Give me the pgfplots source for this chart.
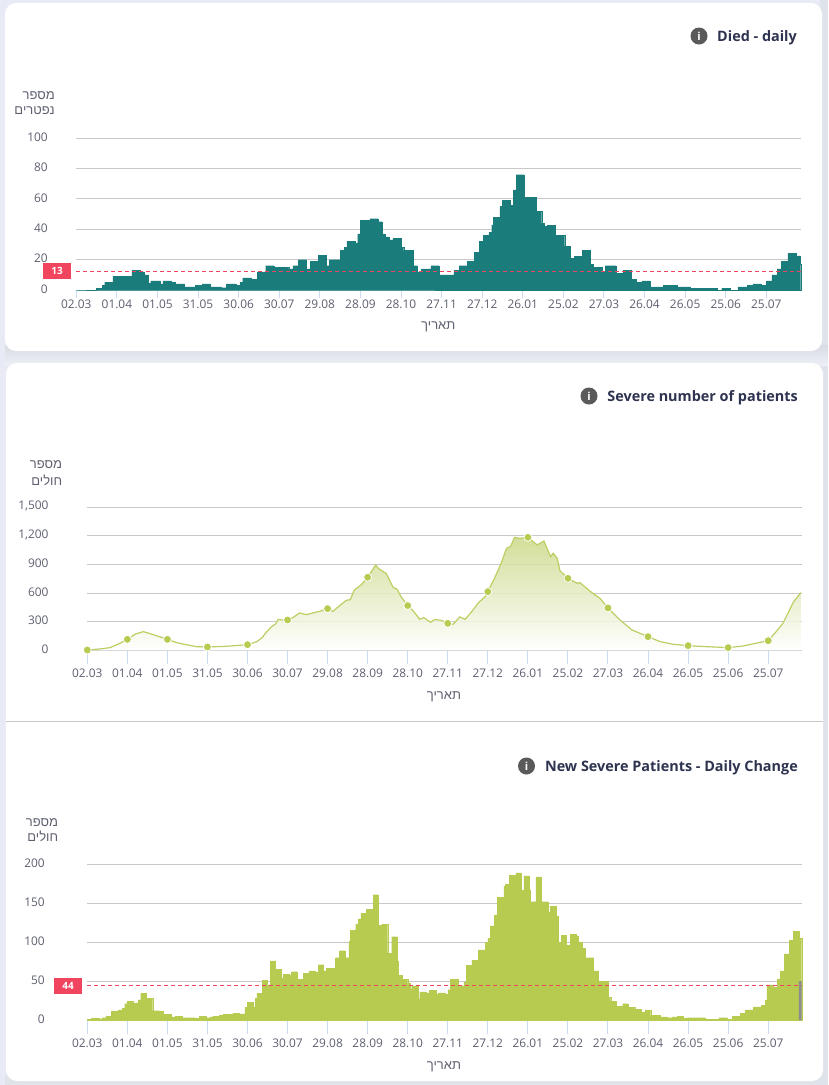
\documentclass[border=0pt]{standalone}
\usepackage{pgfplots}
\pgfplotsset{compat=1.18}
\usepackage{fontspec}
\setmainfont{Open Sans}
\newfontfamily\hebfont[Script=Hebrew]{Liberation Sans}
\TeXXeTstate=1
\definecolor{pagebg}{HTML}{E8EBF5}
\definecolor{rightbg}{HTML}{DFE3EA}
\definecolor{shadowtop}{HTML}{D9DBE3}
\definecolor{shadowbot}{HTML}{EDEFF6}
\definecolor{tickcol}{HTML}{5E6070}
\definecolor{gridcol}{HTML}{C8C8C8}
\definecolor{xtickcol}{HTML}{CCDCF0}
\definecolor{teal}{HTML}{1B7C7C}
\definecolor{lime}{HTML}{B7CB50}
\definecolor{limeline}{HTML}{BDCF62}
\definecolor{limetop}{HTML}{CBD988}
\definecolor{titlecol}{HTML}{2E3350}
\definecolor{redlab}{HTML}{F1445F}
\definecolor{iconcol}{HTML}{5A5A5A}
\pgfplotstableread{
x y
0 0
15 1
19 3
21 5
27 9
35 9
41 13
47 12
50 10
53 4.5
55 6
62 4
64 6
70 5
73 4
80 2
88 3
93 4
99 2
101 2
107 1.5
111 4
118 3
121 5
123 8
129 7
134 12
140 16
146 15
157 14
160 16
164 20
170 14
173 19
179 23
185 16
187 20
195 26
198 28
200 32
206 31
208 37
210 46
217 47
223 45
226 37
228 35
231 33
234 34
240 28
242 26
249 16
252 12
255 14
262 16
268 10
279 13
283 16
289 19
294 25
298 32
301 36
305 38
307 43
308 48
313 55
315 59
321 56
323 66
325 76
331 61
340 52
344 44
346 42
348 42.5
354 36
361 29
365 21
368 22
374 26
380 17
382 15
389 12
391 16
399 11
404 13
410 7
414 5
418 6
424 2
434 3
444 2
454 1
474 0
477 1
483 0
489 2
496 3
500 4
506 3
510 6
514 10
518 14
521 19
526 24
532 22.5
535 17
535.4 17
}\diedtable
\pgfplotstableread{
x y
0 3
9.5 14
17 28
24.5 73
30 115
36 171
42 196
47 175
54 143
60 115
67 80
74 59
82 38
90 35
104 42
120 59
127 91
131 133
134 189
138 248
141 276
143 325
146 318
150 318
154 343
159 392
164 374
169 392
174 409
180 437
184 409
189 469
194 524
197 532
200 633
205 685
210 766
216 895
218 860
224 804
229 661
232 640
235 563
240 469
244 416
249 325
252 343
257 294
260 322
265 315
270 283
274 273
279 350
283 325
288 406
293 500
298 563
300 615
305 755
310 913
314 1070
317 1088
320 1185
324 1175
330 1185
337 1105
342 1147
347 983
349 1018
352 965
354 836
360 755
367 703
369 710
377 615
384 545
390 444
399 318
408 213
414 178
420 143
429 91
439 63
450 49
464 38
480 28
491 45
510 101
516 196
521 283
525 395
529 510
534.5 605
}\severetable
\pgfplotstableread{
x y
0 3
30 115
60 115
90 35
120 59
150 318
180 437
210 766
240 469
270 283
300 615
330 1185
360 755
390 444
420 143
450 49
480 28
510 101
}\severemarks
\pgfplotstableread{
x y
0 1
3 2
9 1.5
11 3
14 5
18 11
23 13
26 15
28 21
30 24
34 22
38 26
40 34
44 28
49 12
54 11
57 7
63 4
66 5
71 3
81 2
84 5
89 3
92 4
94 5
99 6
102 7
109 9
114 8
118 16
120 23
124 17
126 28
127 34
131 51
135 45
137 76
141 65
145 54
147 59
151 57
153 62
157 52
162 60
166 63
171 61
173 71
177 63
179 66
186 80
189 89
193 80
196 101
197 115
201 123
203 130
205 137
209 142
214 161
218 122
221 123
225 86
228 107
232 76
233 57
236 52
240 47
242 40
243 44
248 27
249 36
254 35
256 38
261 33
263 35
268 33
270 39
272 52
278 44
282 49
284 70
288 77
293 90
298 100
300 105
302 121
305 135
307 158
312 172
313 174
316 186
321 189
325 167
327 185
331 167
332 152
336 184
340 152
345 139
347 146
351 133
353 100
355 109
359 96
362 110
366 108
368 100
371 92
373 80
379 63
383 50
390 29
392 24
396 18
401 21
405 16
410 14
415 10
418 13
422 6
429 4
434 3
438 4
442 5
446 2
449 3
463 1
473 3
479 1
483 5
489 9
493 13
499 17
505 19
508 25
509 45
514 42
517 53
519 63
522 85
526 102
529 114
533 105
535.1 105
}\changetable
\pgfplotsset{
  every chart/.style={
    scale only axis, anchor=origin,
    xmin=0,
    xtick={0,30,60,90,120,150,180,210,240,270,300,330,360,390,420,450,480,510},
    xticklabels={02.03,01.04,01.05,31.05,30.06,30.07,29.08,28.09,28.10,27.11,27.12,26.01,25.02,27.03,26.04,26.05,25.06,25.07},
    ymin=0,
    ymajorgrids, grid style={draw=gridcol,line width=1pt},
    axis x line*=bottom, axis y line*=left,
    axis line style={-,draw=xtickcol,line width=1pt},
    y axis line style={draw=none},
    tick align=outside,
    ytick style={draw=none},
    xtick style={draw=xtickcol,line width=1pt},
    minor tick num=0,
    tick label style={font=\fontsize{11.9}{14}\selectfont,text=tickcol,inner sep=0pt},
    /pgf/number format/assume math mode=true,
    /pgf/number format/1000 sep={,},
    clip=false,
  }
}
\newcommand{\heb}[1]{{\hebfont\beginR #1\endR}}
\newcommand{\infoicon}[2]{\fill[iconcol] (#1,#2) circle (8.5);\node[text=white,font=\fontsize{11}{11}\bfseries\selectfont,inner sep=0pt] at (#1,#2) {i};}
\begin{document}
\begin{tikzpicture}[x=1pt,y=-1pt]
\path[use as bounding box,fill=pagebg] (0,0) rectangle (828,1085);
\fill[rightbg] (820,0) rectangle (828,1085);
\shade[top color=shadowtop,bottom color=shadowbot] (0,345) rectangle (828,365);
\fill[rightbg] (0,1075) rectangle (828,1085);
\fill[pagebg] (0,0) rectangle (5,1085);
\fill[white,rounded corners=11pt] (5,3) rectangle (822,351);
\fill[white,rounded corners=11pt] (6,363) rectangle (823,1081);
\draw[gridcol,line width=1pt] (6,721) -- (823,721);

% Chart 1
\begin{axis}[every chart, at={(76.3pt,-290pt)}, width=724.4pt, height=151.7pt,
  xmax=535.4, ymax=100, ytick={0,20,40,60,80,100},
  major tick length=8pt,
  xticklabel style={anchor=center,yshift=-6.2pt},
  yticklabel style={anchor=east,xshift=-20.3pt,yshift=1.1pt}]
\addplot[const plot, fill=teal, draw=teal, line width=0.3pt] table {\diedtable} \closedcycle;
\addplot[redlab, dashed, dash pattern=on 4pt off 3pt, line width=0.9pt] coordinates {(0,12.1) (535.4,12.1)};
\end{axis}
\fill[redlab] (43.3,262.7) rectangle (71,279);
\node[text=white,font=\fontsize{10}{10}\bfseries\selectfont,inner sep=0pt] at (57.2,271) {13};
\node[text=tickcol,font=\fontsize{13}{13}\selectfont,anchor=east,inner sep=0pt] at (55,96) {\heb{מספר}};
\node[text=tickcol,font=\fontsize{13}{13}\selectfont,anchor=east,inner sep=0pt] at (55,110.7) {\heb{נפטרים}};
\node[text=tickcol,font=\fontsize{13}{13}\selectfont,inner sep=0pt] at (438.3,326.7) {\heb{תאריך}};
\infoicon{699}{36}
\node[text=titlecol,font=\fontsize{14.4}{15}\bfseries\selectfont,anchor=east,inner sep=0pt] at (797,37.5) {Died - daily};

% Chart 2
\begin{axis}[every chart, at={(87.3pt,-650.3pt)}, width=714.4pt, height=143pt,
  xmax=535.1, ymax=1500, ytick={0,300,600,900,1200,1500},
  major tick length=14pt,
  x axis line style={draw=gridcol},
  xticklabel style={anchor=center,yshift=-9.2pt},
  yticklabel style={anchor=east,xshift=-24.6pt,yshift=1pt}]
\addplot[draw=none, fill opacity=0.85, shade, shading angle=0, top color=limetop, bottom color=white] table {\severetable} \closedcycle;
\addplot[limeline, line width=1.2pt] table {\severetable};
\addplot[only marks, mark=*, mark size=4pt, mark options={fill=lime, draw=white, line width=0.8pt}] table {\severemarks};
\end{axis}
\node[text=tickcol,font=\fontsize{13}{13}\selectfont,anchor=east,inner sep=0pt] at (62.3,465) {\heb{מספר}};
\node[text=tickcol,font=\fontsize{13}{13}\selectfont,anchor=east,inner sep=0pt] at (62.3,480) {\heb{חולים}};
\node[text=tickcol,font=\fontsize{13}{13}\selectfont,inner sep=0pt] at (444,696.7) {\heb{תאריך}};
\infoicon{589}{396}
\node[text=titlecol,font=\fontsize{14.4}{15}\bfseries\selectfont,anchor=east,inner sep=0pt] at (798,397.5) {Severe number of patients};

% Chart 3
\begin{axis}[every chart, at={(87.3pt,-1020pt)}, width=714.4pt, height=155.7pt,
  xmax=535.1, ymax=200, ytick={0,50,100,150,200},
  major tick length=14pt,
  xticklabel style={anchor=center,yshift=-9.1pt},
  yticklabel style={anchor=east,xshift=-28.3pt,yshift=1.1pt}]
\addplot[const plot, fill=lime, draw=lime, line width=0.3pt] table {\changetable} \closedcycle;
\addplot[const plot, fill=gray!90, draw=none] coordinates {(533,50) (535.1,50)} \closedcycle;
\addplot[redlab, dashed, dash pattern=on 4pt off 3pt, line width=0.9pt] coordinates {(0,44.5) (535.1,44.5)};
\end{axis}
\fill[redlab] (54.3,977.7) rectangle (82,993.7);
\node[text=white,font=\fontsize{10}{10}\bfseries\selectfont,inner sep=0pt] at (68.2,985.7) {44};
\node[text=tickcol,font=\fontsize{13}{13}\selectfont,anchor=east,inner sep=0pt] at (58.3,822.3) {\heb{מספר}};
\node[text=tickcol,font=\fontsize{13}{13}\selectfont,anchor=east,inner sep=0pt] at (58.3,836.7) {\heb{חולים}};
\node[text=tickcol,font=\fontsize{13}{13}\selectfont,inner sep=0pt] at (444,1066.7) {\heb{תאריך}};
\infoicon{526.5}{766}
\node[text=titlecol,font=\fontsize{14.4}{15}\bfseries\selectfont,anchor=east,inner sep=0pt] at (798,767.5) {New Severe Patients - Daily Change};
\end{tikzpicture}
\end{document}
